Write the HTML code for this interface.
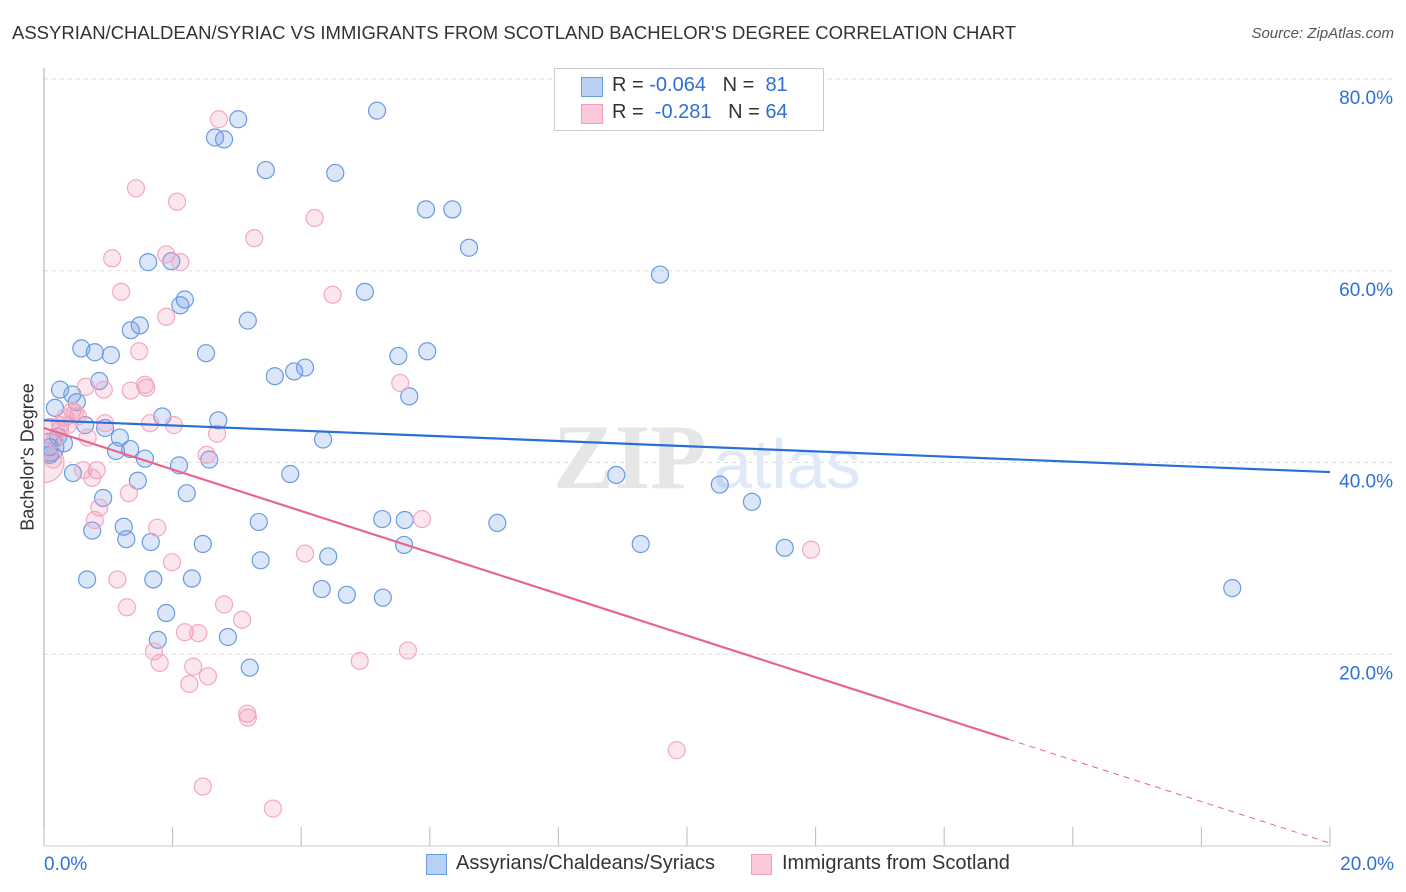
<!DOCTYPE html>
<html><head><meta charset="utf-8">
<style>
body{margin:0;background:#fff;font-family:"Liberation Sans",sans-serif;}
#wrap{position:relative;width:1406px;height:892px;overflow:hidden;}
.t{position:absolute;white-space:nowrap;}
</style></head>
<body>
<div id="wrap">
<div class="t" style="left:12px;top:22px;font-size:18.5px;color:#333;">ASSYRIAN/CHALDEAN/SYRIAC VS IMMIGRANTS FROM SCOTLAND BACHELOR'S DEGREE CORRELATION CHART</div>
<div class="t" style="right:12px;top:25px;font-size:15px;color:#555;font-style:italic;">Source: ZipAtlas.com</div>
<svg id="plot" width="1406" height="892" style="position:absolute;left:0;top:0"></svg>
<div class="t" style="left:28px;top:457px;font-size:18px;color:#333;transform:translate(-50%,-50%) rotate(-90deg);">Bachelor's Degree</div>
<div style="position:absolute;left:554px;top:68px;width:268px;height:61px;border:1px solid #ccc;background:#fff;">
 <div style="position:absolute;left:26px;top:8px;width:20px;height:18px;background:#b8d0f4;border:1px solid #6a9be0;"></div>
 <div class="t" style="left:57px;top:5px;font-size:20px;color:#333;">R = <span style="color:#2e6fd6">-0.064</span>&nbsp;&nbsp;&nbsp;N = &nbsp;<span style="color:#2e6fd6">81</span></div>
 <div style="position:absolute;left:26px;top:35px;width:20px;height:18px;background:#fac8d8;border:1px solid #f0a0bc;"></div>
 <div class="t" style="left:57px;top:32px;font-size:20px;color:#333;">R = &nbsp;<span style="color:#2e6fd6">-0.281</span>&nbsp;&nbsp;&nbsp;N = <span style="color:#2e6fd6">64</span></div>
</div>
<div style="position:absolute;left:426px;top:854px;width:19px;height:19px;background:#b8d0f4;border:1px solid #6a9be0;"></div>
<div class="t" style="left:456px;top:852px;font-size:20px;color:#333;">Assyrians/Chaldeans/Syriacs</div>
<div style="position:absolute;left:751px;top:854px;width:19px;height:19px;background:#fac8d8;border:1px solid #f0a0bc;"></div>
<div class="t" style="left:782px;top:852px;font-size:20px;color:#333;">Immigrants from Scotland</div>
</div>
<script>
const xTicks=[0,20];
const xTickLabels=["0.0%","20.0%"];
const yTicks=[20,40,60,80];
const yTickLabels=["20.0%","40.0%","60.0%","80.0%"];
const blueX=[5.18,3.02,2.66,2.80,3.45,4.53,5.94,6.35,6.61,9.58,1.62,1.98,2.19,2.12,4.99,1.49,1.35,3.17,0.58,0.79,1.04,2.52,5.51,5.96,4.06,3.89,3.59,5.68,0.86,0.25,0.44,0.51,0.17,1.84,2.71,0.95,1.18,0.64,0.22,0.31,0.09,1.34,1.12,1.57,2.10,2.57,4.34,0.45,3.83,8.90,1.46,2.22,0.92,10.51,11.01,1.24,3.34,5.26,5.61,7.05,0.75,1.28,1.66,2.47,5.60,9.28,11.52,3.37,4.42,0.67,1.70,2.30,4.32,4.71,5.27,18.48,1.90,1.77,2.86,3.20,0.09];
const blueY=[76.7,75.8,73.9,73.7,70.5,70.2,66.4,66.4,62.4,59.6,60.9,61.0,57.0,56.4,57.8,54.3,53.8,54.8,51.9,51.5,51.2,51.4,51.1,51.6,49.9,49.5,49.0,46.9,48.5,47.6,47.1,46.3,45.7,44.8,44.4,43.6,42.6,43.9,42.7,42.0,41.6,41.4,41.2,40.4,39.7,40.3,42.4,38.9,38.8,38.7,38.1,36.8,36.3,37.7,35.9,33.3,33.8,34.1,34.0,33.7,32.9,32.0,31.7,31.5,31.4,31.5,31.1,29.8,30.2,27.8,27.8,27.9,26.8,26.2,25.9,26.9,24.3,21.5,21.8,18.6,40.8];
const pinkX=[2.72,1.43,2.07,4.21,3.27,1.90,2.12,1.06,1.20,4.49,1.90,1.48,1.59,1.35,0.93,0.65,5.54,1.57,0.44,0.53,0.33,0.25,0.95,1.65,2.02,0.68,2.69,0.25,0.09,2.53,0.82,0.61,0.75,1.32,0.86,0.79,1.76,5.88,1.99,4.06,1.14,11.93,2.80,1.29,3.08,2.19,2.40,1.71,1.80,5.66,4.91,2.32,2.55,2.26,3.16,3.17,9.84,2.47,3.56,0.17,0.37,0.48,0.14];
const pinkY=[75.8,68.6,67.2,65.5,63.4,61.7,60.9,61.3,57.8,57.5,55.2,51.6,47.8,47.5,47.6,47.9,48.3,48.1,45.4,44.8,44.7,43.9,44.1,44.1,43.9,42.6,43.0,43.4,43.7,40.8,39.2,39.2,38.4,36.8,35.3,34.0,33.2,34.1,29.6,30.5,27.8,30.9,25.2,24.9,23.6,22.3,22.2,20.3,19.1,20.4,19.3,18.7,17.7,16.9,13.8,13.4,10.0,6.2,3.9,42.4,43.9,45.2,40.3];
const blueTrend=[44.4,39.0];
const pinkTrend=[43.6,0.3];
const pinkSolidEnd=15.0;

const NS="http://www.w3.org/2000/svg";
const svg=document.getElementById('plot');
const X0=44,X1=1330,Y0=846,Y80=79;
const sx=v=>X0+(X1-X0)*v/20;
const sy=v=>Y0-(Y0-Y80)*v/80;
function mk(tag,attrs,parent){const e=document.createElementNS(NS,tag);for(const k in attrs)e.setAttribute(k,attrs[k]);(parent||svg).appendChild(e);return e;}
const defs=mk('defs',{});
const cp=mk('clipPath',{id:'clip'},defs);
mk('rect',{x:X0,y:60,width:1360,height:Y0-60},cp);
yTicks.forEach((t,i)=>{
  const g=mk('line',{x1:X0,x2:1394,y1:sy(t),y2:sy(t),stroke:'#ddd','stroke-dasharray':'4,4'});
  
  
  const tx=mk('text',{x:1393,y:sy(t)+25,'text-anchor':'end','font-size':19,fill:'#2e6fd6','font-family':'Liberation Sans, sans-serif'});
  tx.textContent=yTickLabels[i];
  
  
});
mk('line',{x1:X0,x2:X0,y1:68,y2:Y0,stroke:'#aaa'});
mk('line',{x1:X0,x2:X1,y1:Y0,y2:Y0,stroke:'#ccc'});
for(let i=0;i<=10;i++){const l=mk('line',{x1:sx(i*2),x2:sx(i*2),y1:827,y2:Y0,stroke:'#bbb'});
  
  }
xTicks.forEach((t,i)=>{
  const tx=mk('text',{x:i==0?sx(t):1394,y:870,'text-anchor':i==0?'start':'end','font-size':19,fill:'#2e6fd6','font-family':'Liberation Sans, sans-serif'});
  tx.textContent=xTickLabels[i];
  
  
});
const wm=mk('text',{x:553,y:488,'font-size':92,fill:'#e6e6e6','font-family':'Liberation Serif, serif','font-weight':'bold'});
wm.textContent='ZIP';


const wm2=mk('text',{x:713,y:488,'font-size':70,fill:'#e0e9f7','font-family':'Liberation Sans, sans-serif'});
wm2.textContent='atlas';


const g=mk('g',{'clip-path':'url(#clip)'});
const bp=mk('circle',{cx:sx(0),cy:sy(40),r:20,fill:'rgba(242,140,175,0.22)',stroke:'#f3a8c2','stroke-width':1.2},g);


const bb=mk('circle',{cx:sx(0.09),cy:sy(41.6),r:14,fill:'rgba(110,155,230,0.25)',stroke:'#6a9be0','stroke-width':1.2},g);


blueX.forEach((x,i)=>{const c=mk('circle',{cx:sx(x),cy:sy(blueY[i]),r:8.5,fill:'rgba(110,155,230,0.25)',stroke:'#6a9be0','stroke-width':1.2},g);
  
  });
pinkX.forEach((x,i)=>{const c=mk('circle',{cx:sx(x),cy:sy(pinkY[i]),r:8.5,fill:'rgba(242,140,175,0.22)',stroke:'#f3a8c2','stroke-width':1.2},g);
  
  });
const bl=mk('line',{x1:sx(0),y1:sy(blueTrend[0]),x2:sx(20),y2:sy(blueTrend[1]),stroke:'#2a6fd6','stroke-width':2.2});


const py=x=>pinkTrend[0]+(pinkTrend[1]-pinkTrend[0])*x/20;
const pl=mk('line',{x1:sx(0),y1:sy(pinkTrend[0]),x2:sx(pinkSolidEnd),y2:sy(py(pinkSolidEnd)),stroke:'#e8648f','stroke-width':2.2});


const pd=mk('line',{x1:sx(pinkSolidEnd),y1:sy(py(pinkSolidEnd)),x2:sx(20),y2:sy(pinkTrend[1]),stroke:'#e8648f','stroke-width':1,'stroke-dasharray':'6,5'});


</script>
</body></html>
